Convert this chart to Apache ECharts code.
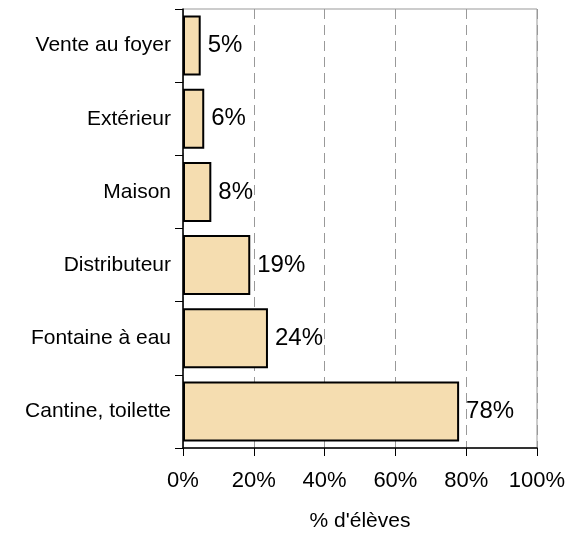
<!DOCTYPE html>
<html><head><meta charset="utf-8">
<script src="https://cdn.jsdelivr.net/npm/echarts@6/dist/echarts.min.js"></script>
<style>html,body{margin:0;padding:0;background:#fff}#c{width:565px;height:533px}</style>
</head><body><div id="c"></div>
<script>
const categories = ["Cantine, toilette", "Fontaine à eau", "Distributeur", "Maison", "Extérieur", "Vente au foyer"];
const values = [78, 24, 19, 8, 6, 5];
const xTicks = [0, 20, 40, 60, 80, 100];

const chart = echarts.init(document.getElementById('c'), null, {renderer: 'canvas'});
chart.setOption({
  animation: false,
  textStyle: {fontFamily: 'Liberation Sans, Arial, sans-serif'},
  grid: {left: 183, right: 28, top: 9, bottom: 85, containLabel: false, outerBoundsMode: 'none', show: true, borderColor: '#999', borderWidth: 1, backgroundColor: 'transparent'},
  xAxis: {
    type: 'value', min: 0, max: 100, interval: 20,
    name: "% d'élèves", nameLocation: 'middle', nameGap: 63,
    nameTextStyle: {fontSize: 21, color: '#000'},
    axisLine: {show: true, lineStyle: {color: '#000', width: 1.5}},
    axisTick: {show: true, length: 8, lineStyle: {color: '#000'}},
    axisLabel: {fontSize: 22, color: '#000', margin: 22, formatter: v => xTicks.includes(v) ? v + '%' : ''},
    splitLine: {show: true, lineStyle: {color: '#999', type: [10, 6], width: 1}}
  },
  yAxis: {
    type: 'category', data: categories,
    axisLine: {show: true, lineStyle: {color: '#000', width: 1.5}},
    axisTick: {show: true, length: 8, alignWithLabel: false, lineStyle: {color: '#000'}},
    axisLabel: {fontSize: 21, color: '#000', margin: 12},
    splitLine: {show: false}
  },
  series: [{
    type: 'bar', data: values, barCategoryGap: '18%',
    itemStyle: {color: '#F5DDB0', borderColor: '#000', borderWidth: 2},
    label: {show: true, position: 'right', distance: 7, fontSize: 24, color: '#000', formatter: p => p.value + '%'}
  }]
});
</script></body></html>
